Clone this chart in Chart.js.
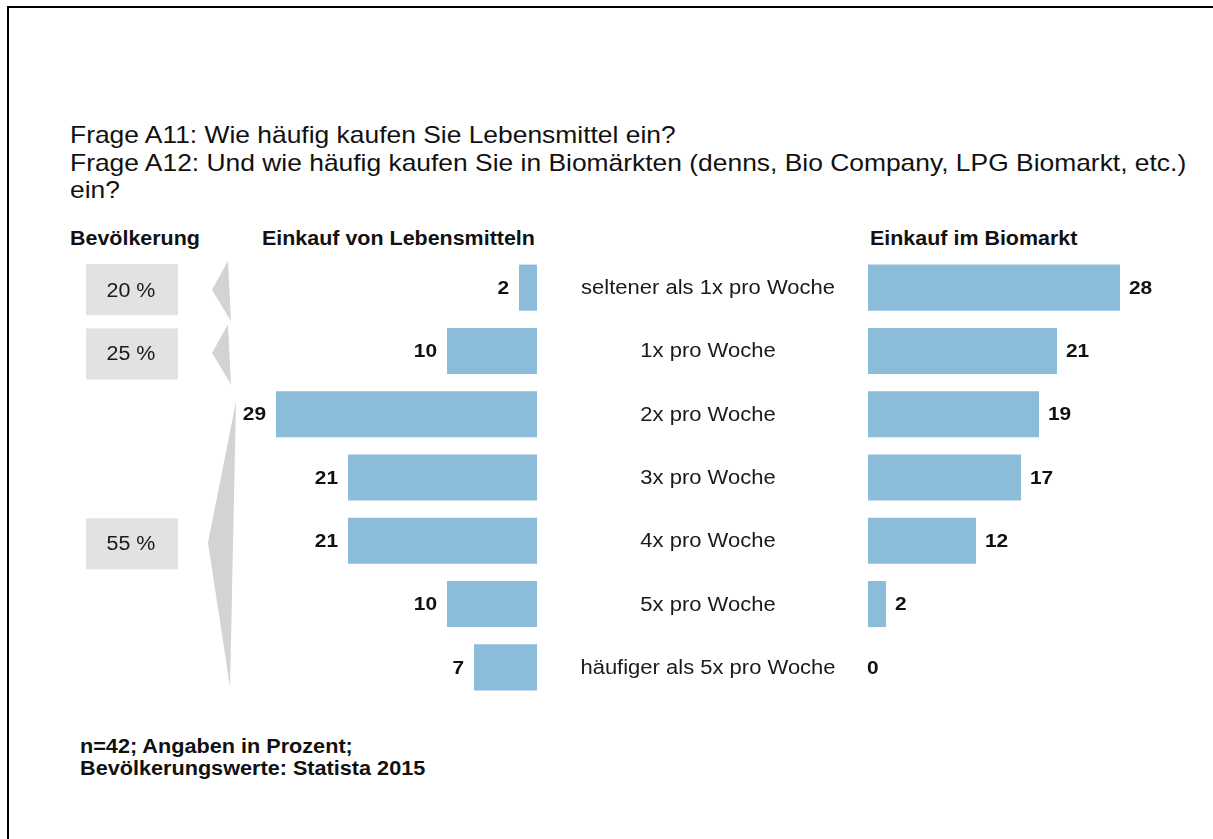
<!DOCTYPE html>
<html>
<head>
<meta charset="utf-8">
<script src="https://cdn.jsdelivr.net/npm/chart.js@4"></script>
<style>
  html, body { margin: 0; padding: 0; background: #fff; }
  body { width: 1213px; height: 839px; position: relative; overflow: hidden;
         font-family: "Liberation Sans", Arial, sans-serif; color: #111; }
  #frame { position: absolute; left: 7px; top: 6px; width: 1220px; height: 900px;
           border-top: 2px solid #000; border-left: 2px solid #000; }
  .t { position: absolute; white-space: nowrap; transform-origin: 0 50%; }
  #title { left: 70px; top: 121px; font-size: 24px; line-height: 27.5px; transform: scaleX(1.1); }
  .hdr { font-weight: bold; font-size: 19.5px; top: 227px; transform: scaleX(1.1); }
  #foot { left: 80px; top: 735px; font-weight: bold; font-size: 19.5px; line-height: 22px; transform: scaleX(1.11); }
  canvas { position: absolute; left: 0; top: 0; }
</style>
</head>
<body>
<div id="frame"></div>
<div id="title" class="t">Frage A11: Wie häufig kaufen Sie Lebensmittel ein?<br>Frage A12: Und wie häufig kaufen Sie in Biomärkten (denns, Bio Company, LPG Biomarkt, etc.)<br>ein?</div>
<div class="t hdr" style="left:70px">Bevölkerung</div>
<div class="t hdr" style="left:262px">Einkauf von Lebensmitteln</div>
<div class="t hdr" style="left:870px">Einkauf im Biomarkt</div>
<div id="foot" class="t">n=42; Angaben in Prozent;<br>Bevölkerungswerte: Statista 2015</div>
<canvas id="c" width="1213" height="839"></canvas>
<script>
// ---- data ----
const categories = [
  "seltener als 1x pro Woche",
  "1x pro Woche",
  "2x pro Woche",
  "3x pro Woche",
  "4x pro Woche",
  "5x pro Woche",
  "häufiger als 5x pro Woche"
];
const lebensmittel = [2, 10, 29, 21, 21, 10, 7];
const biomarkt = [28, 21, 19, 17, 12, 2, 0];
const popLabels = ["20 %", "25 %", "55 %"];
const popStart = [0, 1, 2];
const popEnd = [0, 1, 6];

// ---- layout constants ----
const FONT = '"Liberation Sans", Arial, sans-serif';
const BAR_COLOR = '#8bbcda';
const AXIS_MAX = 33;
const AXIS_SPAN = 925 / 9; // 9 px per unit over a 925px chart area
const AXIS_MIN = AXIS_MAX - AXIS_SPAN;

function wideText(ctx, text, x, y, align, sx) {
  ctx.save();
  ctx.translate(x, y);
  ctx.scale(sx, 1);
  ctx.textAlign = align;
  ctx.fillText(text, 0, 0);
  ctx.restore();
}

const valueLabels = {
  id: 'valueLabels',
  afterDatasetsDraw(chart) {
    const ctx = chart.ctx;
    ctx.save();
    ctx.font = 'bold 19px ' + FONT;
    ctx.fillStyle = '#111';
    ctx.textBaseline = 'middle';
    chart.data.datasets.forEach((ds, di) => {
      const meta = chart.getDatasetMeta(di);
      meta.data.forEach((bar, i) => {
        const v = ds.data[i];
        if (di === 0) {
          wideText(ctx, String(v), bar.x - 10, bar.y + 1, 'right', 1.1);
        } else {
          wideText(ctx, String(v), bar.x + (v > 0 ? 9 : -1), bar.y + 1, 'left', 1.1);
        }
      });
    });
    // category labels in the middle
    const y = chart.scales.y;
    ctx.font = '20px ' + FONT;
    ctx.fillStyle = '#1a1a1a';
    categories.forEach((c, i) => {
      wideText(ctx, c, 708, y.getPixelForValue(i) + 1, 'center', 1.1);
    });
    ctx.restore();
  }
};

const popGroups = {
  id: 'popGroups',
  afterDraw(chart) {
    const ctx = chart.ctx;
    const y = chart.scales.y;
    const half = (y.getPixelForValue(1) - y.getPixelForValue(0)) / 2;
    ctx.save();
    popLabels.forEach((lab, g) => {
      const top = y.getPixelForValue(popStart[g]) - half;
      const bot = y.getPixelForValue(popEnd[g]) + half;
      const mid = (top + bot) / 2 + 2;
      const multi = popEnd[g] > popStart[g];
      // bracket triangle
      ctx.fillStyle = '#d3d3d3';
      ctx.beginPath();
      ctx.moveTo(multi ? 236 : 228, top + (multi ? 19 : 5));
      ctx.lineTo(multi ? 208 : 212, mid);
      ctx.lineTo(multi ? 230 : 231, bot - (multi ? 12 : -2));
      ctx.closePath();
      ctx.fill();
      // box
      ctx.fillStyle = '#e2e2e2';
      ctx.fillRect(86, mid - 25.5 + (g > 0 ? 1 : 0), 92, 51);
      ctx.fillStyle = '#1a1a1a';
      ctx.font = '20px ' + FONT;
      ctx.textBaseline = 'middle';
      wideText(ctx, lab, 131, mid + 1.5, 'center', 1.07);
    });
    ctx.restore();
  }
};

new Chart(document.getElementById('c'), {
  type: 'bar',
  data: {
    labels: categories,
    datasets: [
      { label: 'Einkauf von Lebensmitteln', data: lebensmittel, xAxisID: 'xL',
        backgroundColor: BAR_COLOR, grouped: false },
      { label: 'Einkauf im Biomarkt', data: biomarkt, xAxisID: 'xR',
        backgroundColor: BAR_COLOR, grouped: false }
    ]
  },
  options: {
    indexAxis: 'y',
    responsive: false,
    animation: false,
    events: [],
    layout: { padding: { left: 240, right: 48, top: 256, bottom: 140 } },
    datasets: { bar: { categoryPercentage: 1, barPercentage: 0.728 } },
    scales: {
      y: { type: 'category', display: false, offset: true },
      xL: { type: 'linear', axis: 'x', position: 'bottom', reverse: true,
            min: AXIS_MIN, max: AXIS_MAX, display: false },
      xR: { type: 'linear', axis: 'x', position: 'bottom',
            min: AXIS_MIN, max: AXIS_MAX, display: false }
    },
    plugins: { legend: { display: false }, tooltip: { enabled: false }, title: { display: false } }
  },
  plugins: [valueLabels, popGroups]
});
</script>
</body>
</html>
